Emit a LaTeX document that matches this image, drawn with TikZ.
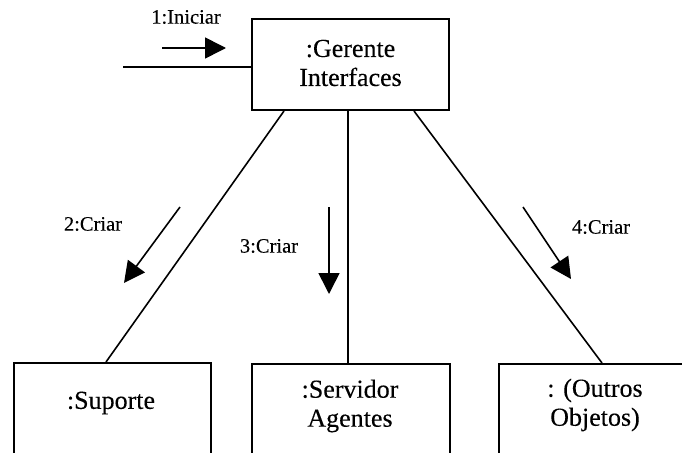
\documentclass[tikz,border=0pt]{standalone}
\usepackage{fontspec}
\setmainfont[FakeBold=0.2]{Liberation Serif}
\usetikzlibrary{arrows.meta,calc}
\tikzset{
  objbox/.style={draw, line width=2pt, rectangle, inner sep=0pt},
  objtext/.style={align=center, inner sep=0pt, font=\fontsize{26}{29}\selectfont},
  link/.style={line width=1.6pt},
  msg/.style={line width=1.6pt, -{Triangle[length=21pt,width=21pt]}},
  msglabel/.style={inner sep=0pt, font=\fontsize{20.5}{23}\selectfont}
}
\begin{document}
\begin{tikzpicture}[x=1pt,y=-1pt]
  \useasboundingbox (0,0) rectangle (682,452);
  \fill[white] (0,0) rectangle (682,452);
  \clip (0,0) rectangle (682,452);

  % central object
  \node[objbox, minimum width=197pt, minimum height=91pt] (ger) at (350.5,64.5) {};
  \node[objtext] (gerT) at (350.5,63) {:Gerente\\Interfaces};

  % created objects (their lower edges run off the page)
  \node[objbox, anchor=north west, minimum width=197pt, minimum height=120pt] (sup) at (13,362) {};
  \node[objtext] (supT) at (111,403) {:Suporte};
  \node[objbox, anchor=north west, minimum width=198pt, minimum height=120pt] (srv) at (251,363) {};
  \node[objtext] (srvT) at (350,406) {:Servidor\\Agentes};
  \node[objbox, anchor=north west, minimum width=220pt, minimum height=120pt] (out) at (498,363) {};
  \node[objtext] (outT) at (595,405) {: (Outros\\Objetos)};

  % links
  \coordinate (actor) at (123,67);
  \draw[link] (actor) -- (actor -| ger.west);
  \draw[link] ($(ger.south west)+(33,0)$) -- ($(sup.north west)+(93,0)$);
  \draw[link] ($(ger.south)+(-2.5,0)$) -- ($(srv.north west)+(97,0)$);
  \draw[link] ($(ger.south west)+(163,0)$) -- ($(out.north west)+(104,0)$);

  % messages
  \coordinate (m1a) at (162,48);  \coordinate (m1b) at (226,48);
  \coordinate (m2a) at (180,207); \coordinate (m2b) at (124,283);
  \coordinate (m3a) at (329,207); \coordinate (m3b) at (329,294);
  \coordinate (m4a) at (523,207); \coordinate (m4b) at (571,279);
  \draw[msg] (m1a) -- (m1b);
  \draw[msg] (m2a) -- (m2b);
  \draw[msg] (m3a) -- (m3b);
  \draw[msg] (m4a) -- (m4b);

  \node[msglabel] (l1) at (186,17) {1:Iniciar};
  \node[msglabel] (l2) at (93,224) {2:Criar};
  \node[msglabel] (l3) at (269,246) {3:Criar};
  \node[msglabel] (l4) at (601,227) {4:Criar};
\end{tikzpicture}
\end{document}
